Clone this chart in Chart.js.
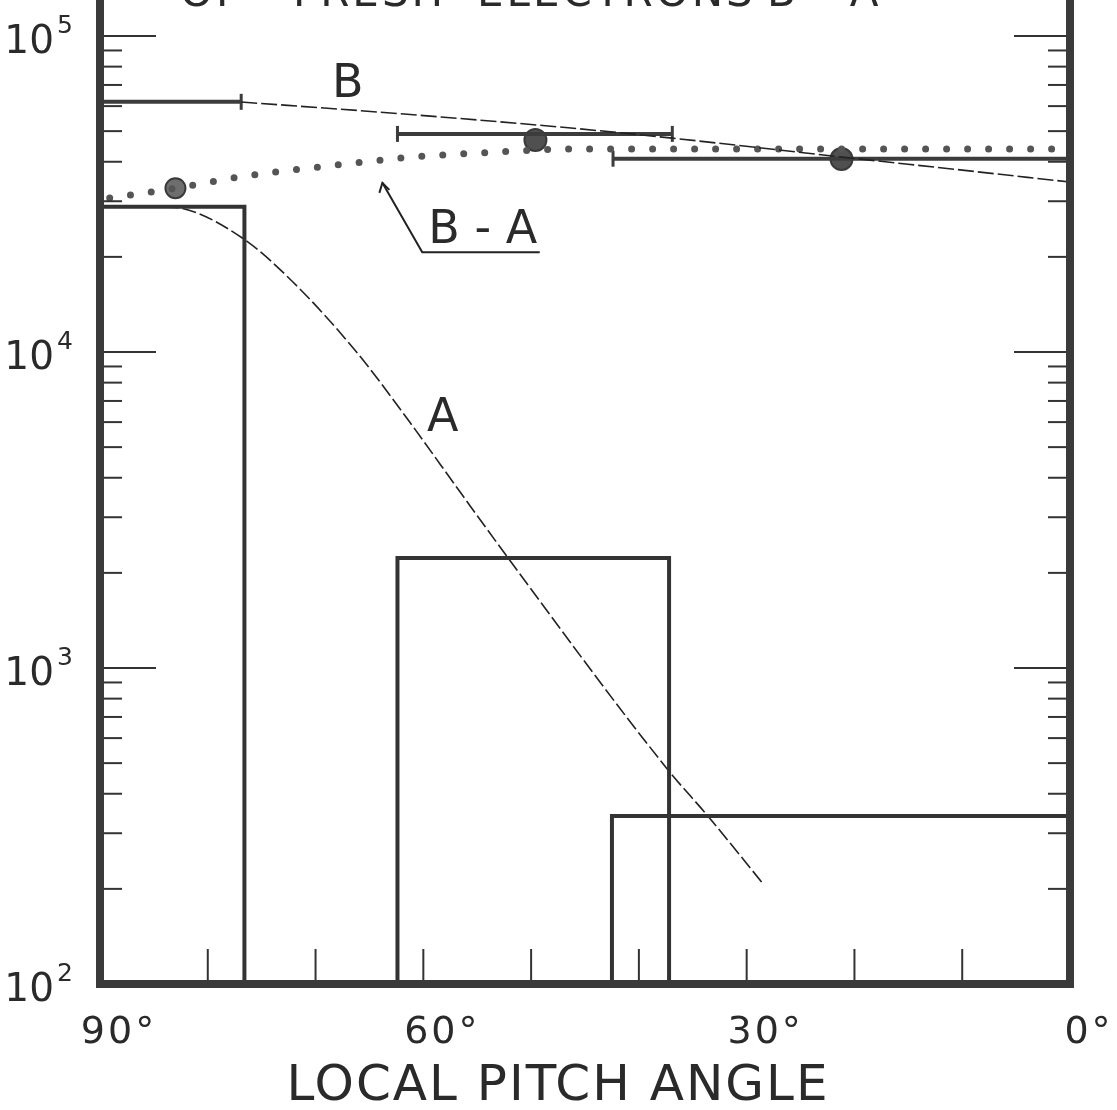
<!DOCTYPE html>
<html>
<head>
<meta charset="utf-8">
<script src="https://cdn.jsdelivr.net/npm/chart.js@4.4.1/dist/chart.umd.min.js"></script>
<style>
  html, body { margin: 0; padding: 0; background: #fff; }
</style>
</head>
<body>
<canvas id="plot" width="1117" height="1110"></canvas>
<script>
// histogram of A (pitch angle bins in degrees, counts)
const binStart = [90, 62.4, 42.5];
const binEnd = [76.6, 37.2, 0];
const binCounts = [28800, 2230, 340];

// B measurements: angular range and level, plus the centre points
const bLow = [90, 62.4, 42.4];
const bHigh = [76.9, 36.9, 0];
const bLevel = [61900, 49000, 40900];
const bPointAngle = [49.6, 21.2];
const bPointValue = [46900, 40800];

// curves
const curveAAngle = [84.0, 82.6, 76.8, 72.1, 66.2, 61.4, 56.6, 52.2, 37.3, 33.6, 28.6];
const curveAValue = [28760, 28560, 22950, 16650, 10000, 6090, 3610, 2245, 476, 340, 210];
const curveBAngle = [76.9, 64.0, 47.3, 36.9, 21.2, 10.2, 0];
const curveBValue = [61800, 57400, 51500, 47500, 41400, 37700, 34500];
const diffAngle = [89.1, 83.0, 76.4, 68.8, 61.0, 53.3, 46.6, 0.3];
const diffValue = [30700, 33000, 36100, 38800, 41400, 42900, 43900, 43900];
const diffMarkAngle = [83.0];
const diffMarkValue = [33000];

// axis labels
const xLabelValues = [90, 60, 30, 0];
const xLabelText = ['90°', '60°', '30°', '0°'];
const xMinorTicks = [80, 70, 60, 50, 40, 30, 20, 10];
const yDecades = [2, 3, 4, 5];

const ink = '#333';
const font = '"DejaVu Sans", sans-serif';

const pts = (xs, ys) => xs.map((a, i) => ({ x: a, y: ys[i] }));

const datasets = [];

// histogram outlines
binCounts.forEach((v, i) => {
    datasets.push({
        data: [
            { x: binStart[i], y: 100 }, { x: binStart[i], y: v },
            { x: binEnd[i], y: v }, { x: binEnd[i], y: 100 }
        ],
        borderColor: ink,
        borderWidth: 4,
        borderJoinStyle: 'miter',
        pointRadius: 0
    });
});

// curve A and curve B (thin, broken lines)
datasets.push({
    data: pts(curveAAngle, curveAValue),
    borderColor: '#222', borderWidth: 1.6, borderDash: [14, 4],
    cubicInterpolationMode: 'monotone', pointRadius: 0
});
datasets.push({
    data: pts(curveBAngle, curveBValue),
    borderColor: '#222', borderWidth: 1.6, borderDash: [16, 4],
    cubicInterpolationMode: 'monotone', pointRadius: 0
});

// B - A dotted curve
datasets.push({
    data: pts(diffAngle, diffValue),
    borderColor: '#555', borderWidth: 7, borderDash: [0, 21], borderCapStyle: 'round',
    cubicInterpolationMode: 'monotone', pointRadius: 0
});

// B range bars with end caps
bLevel.forEach((v, i) => {
    datasets.push({
        data: [{ x: bLow[i], y: v }, { x: bHigh[i], y: v }],
        borderColor: '#3c3c3c', borderWidth: 4,
        pointStyle: 'line', rotation: 90,
        pointRadius: [bLow[i] === 90 ? 0 : 8, bHigh[i] === 0 ? 0 : 8],
        pointBorderWidth: 3, pointBorderColor: '#3c3c3c'
    });
});

// B points
datasets.push({
    data: pts(bPointAngle, bPointValue),
    showLine: false, pointRadius: 11,
    pointBackgroundColor: '#505050', pointBorderColor: '#3a3a3a', pointBorderWidth: 2
});

// hatched marker on B - A
datasets.push({
    data: pts(diffMarkAngle, diffMarkValue),
    showLine: false, pointRadius: 10,
    pointBackgroundColor: '#6e6e6e', pointBorderColor: '#3a3a3a', pointBorderWidth: 2
});
datasets.push({
    data: pts(diffMarkAngle, diffMarkValue),
    showLine: false, pointStyle: 'crossRot', pointRadius: 6,
    pointBorderColor: '#d8d8d8', pointBorderWidth: 2
});

// frame, inside ticks, labels and annotations
const figureArt = {
    id: 'figureArt',
    afterDatasetsDraw(chart) {
        const { ctx, chartArea: a, scales: { x, y } } = chart;
        const seg = (x1, y1, x2, y2) => {
            ctx.beginPath(); ctx.moveTo(x1, y1); ctx.lineTo(x2, y2); ctx.stroke();
        };
        ctx.save();
        ctx.strokeStyle = ink;
        ctx.lineWidth = 2;

        // log ticks on both sides
        yDecades.forEach(d => {
            for (let m = 1; m <= 9; m++) {
                const v = m * Math.pow(10, d);
                if (v > y.max || v <= y.min) continue;
                const py = y.getPixelForValue(v);
                const len = m === 1 ? 56 : 22;
                seg(a.left, py, a.left + len, py);
                seg(a.right, py, a.right - len, py);
            }
        });

        // angle ticks along the bottom
        xMinorTicks.forEach(t => {
            const px = x.getPixelForValue(t);
            seg(px, a.bottom, px, a.bottom - 35);
        });

        // frame
        ctx.strokeStyle = '#3a3a3a';
        ctx.lineWidth = 8;
        seg(a.left, 0, a.left, a.bottom + 4);
        seg(a.right, 0, a.right, a.bottom + 4);
        seg(a.left - 4, a.bottom, a.right + 4, a.bottom);

        ctx.fillStyle = '#2a2a2a';

        // y labels 10^n
        yDecades.forEach(d => {
            const py = y.getPixelForValue(Math.pow(10, d));
            ctx.font = '39px ' + font;
            ctx.textAlign = 'right';
            ctx.textBaseline = 'alphabetic';
            ctx.fillText('10', 54, py + 17);
            ctx.font = '25px ' + font;
            ctx.textAlign = 'left';
            ctx.fillText(String(d), 57, py - 3);
        });

        // x labels
        ctx.font = '38px ' + font;
        ctx.letterSpacing = '3px';
        ctx.textAlign = 'center';
        xLabelValues.forEach((v, i) => {
            ctx.fillText(xLabelText[i], x.getPixelForValue(v) + 19, 1043);
        });

        // axis title
        ctx.font = '50px ' + font;
        ctx.letterSpacing = '2px';
        ctx.fillText('LOCAL PITCH ANGLE', 558, 1100);

        // title, cut by the top edge
        ctx.font = '42px ' + font;
        ctx.letterSpacing = '3px';
        ctx.textAlign = 'left';
        ctx.fillText('OF', 180, 6);
        ctx.fillText('FRESH', 293, 6);
        ctx.fillText('ELECTRONS', 477, 6);
        ctx.fillText('B - A', 767, 6);

        // curve labels
        ctx.letterSpacing = '0px';
        ctx.textAlign = 'center';
        ctx.textBaseline = 'middle';
        ctx.font = '46px ' + font;
        ctx.fillText('B', x.getPixelForValue(67.0), y.getPixelForValue(71000) + 2);
        ctx.fillText('A', x.getPixelForValue(58.2), y.getPixelForValue(6220) + 2);

        // B - A label with leader
        const tipX = x.getPixelForValue(63.8), tipY = y.getPixelForValue(34300);
        const kneeX = x.getPixelForValue(60.1), kneeY = y.getPixelForValue(20700);
        const endX = x.getPixelForValue(49.2);
        ctx.strokeStyle = '#222';
        ctx.lineWidth = 2;
        ctx.beginPath();
        ctx.moveTo(tipX, tipY); ctx.lineTo(kneeX, kneeY); ctx.lineTo(endX, kneeY);
        ctx.stroke();
        ctx.beginPath();
        ctx.moveTo(tipX - 3, tipY + 10); ctx.lineTo(tipX, tipY); ctx.lineTo(tipX + 7, tipY + 7);
        ctx.stroke();
        ctx.textAlign = 'left';
        ctx.textBaseline = 'alphabetic';
        ctx.font = '46px ' + font;
        ctx.fillText('B - A', kneeX + 6, kneeY - 9);

        ctx.restore();
    }
};

new Chart(document.getElementById('plot').getContext('2d'), {
    type: 'line',
    data: { datasets },
    options: {
        responsive: false,
        animation: false,
        layout: { autoPadding: false, padding: { left: 100, right: 47, top: 0, bottom: 126 } },
        plugins: { legend: { display: false }, tooltip: { enabled: false } },
        scales: {
            x: { type: 'linear', min: 0, max: 90, reverse: true, display: false },
            y: { type: 'logarithmic', min: 100, max: 130000, display: false }
        }
    },
    plugins: [figureArt]
});
</script>
</body>
</html>
